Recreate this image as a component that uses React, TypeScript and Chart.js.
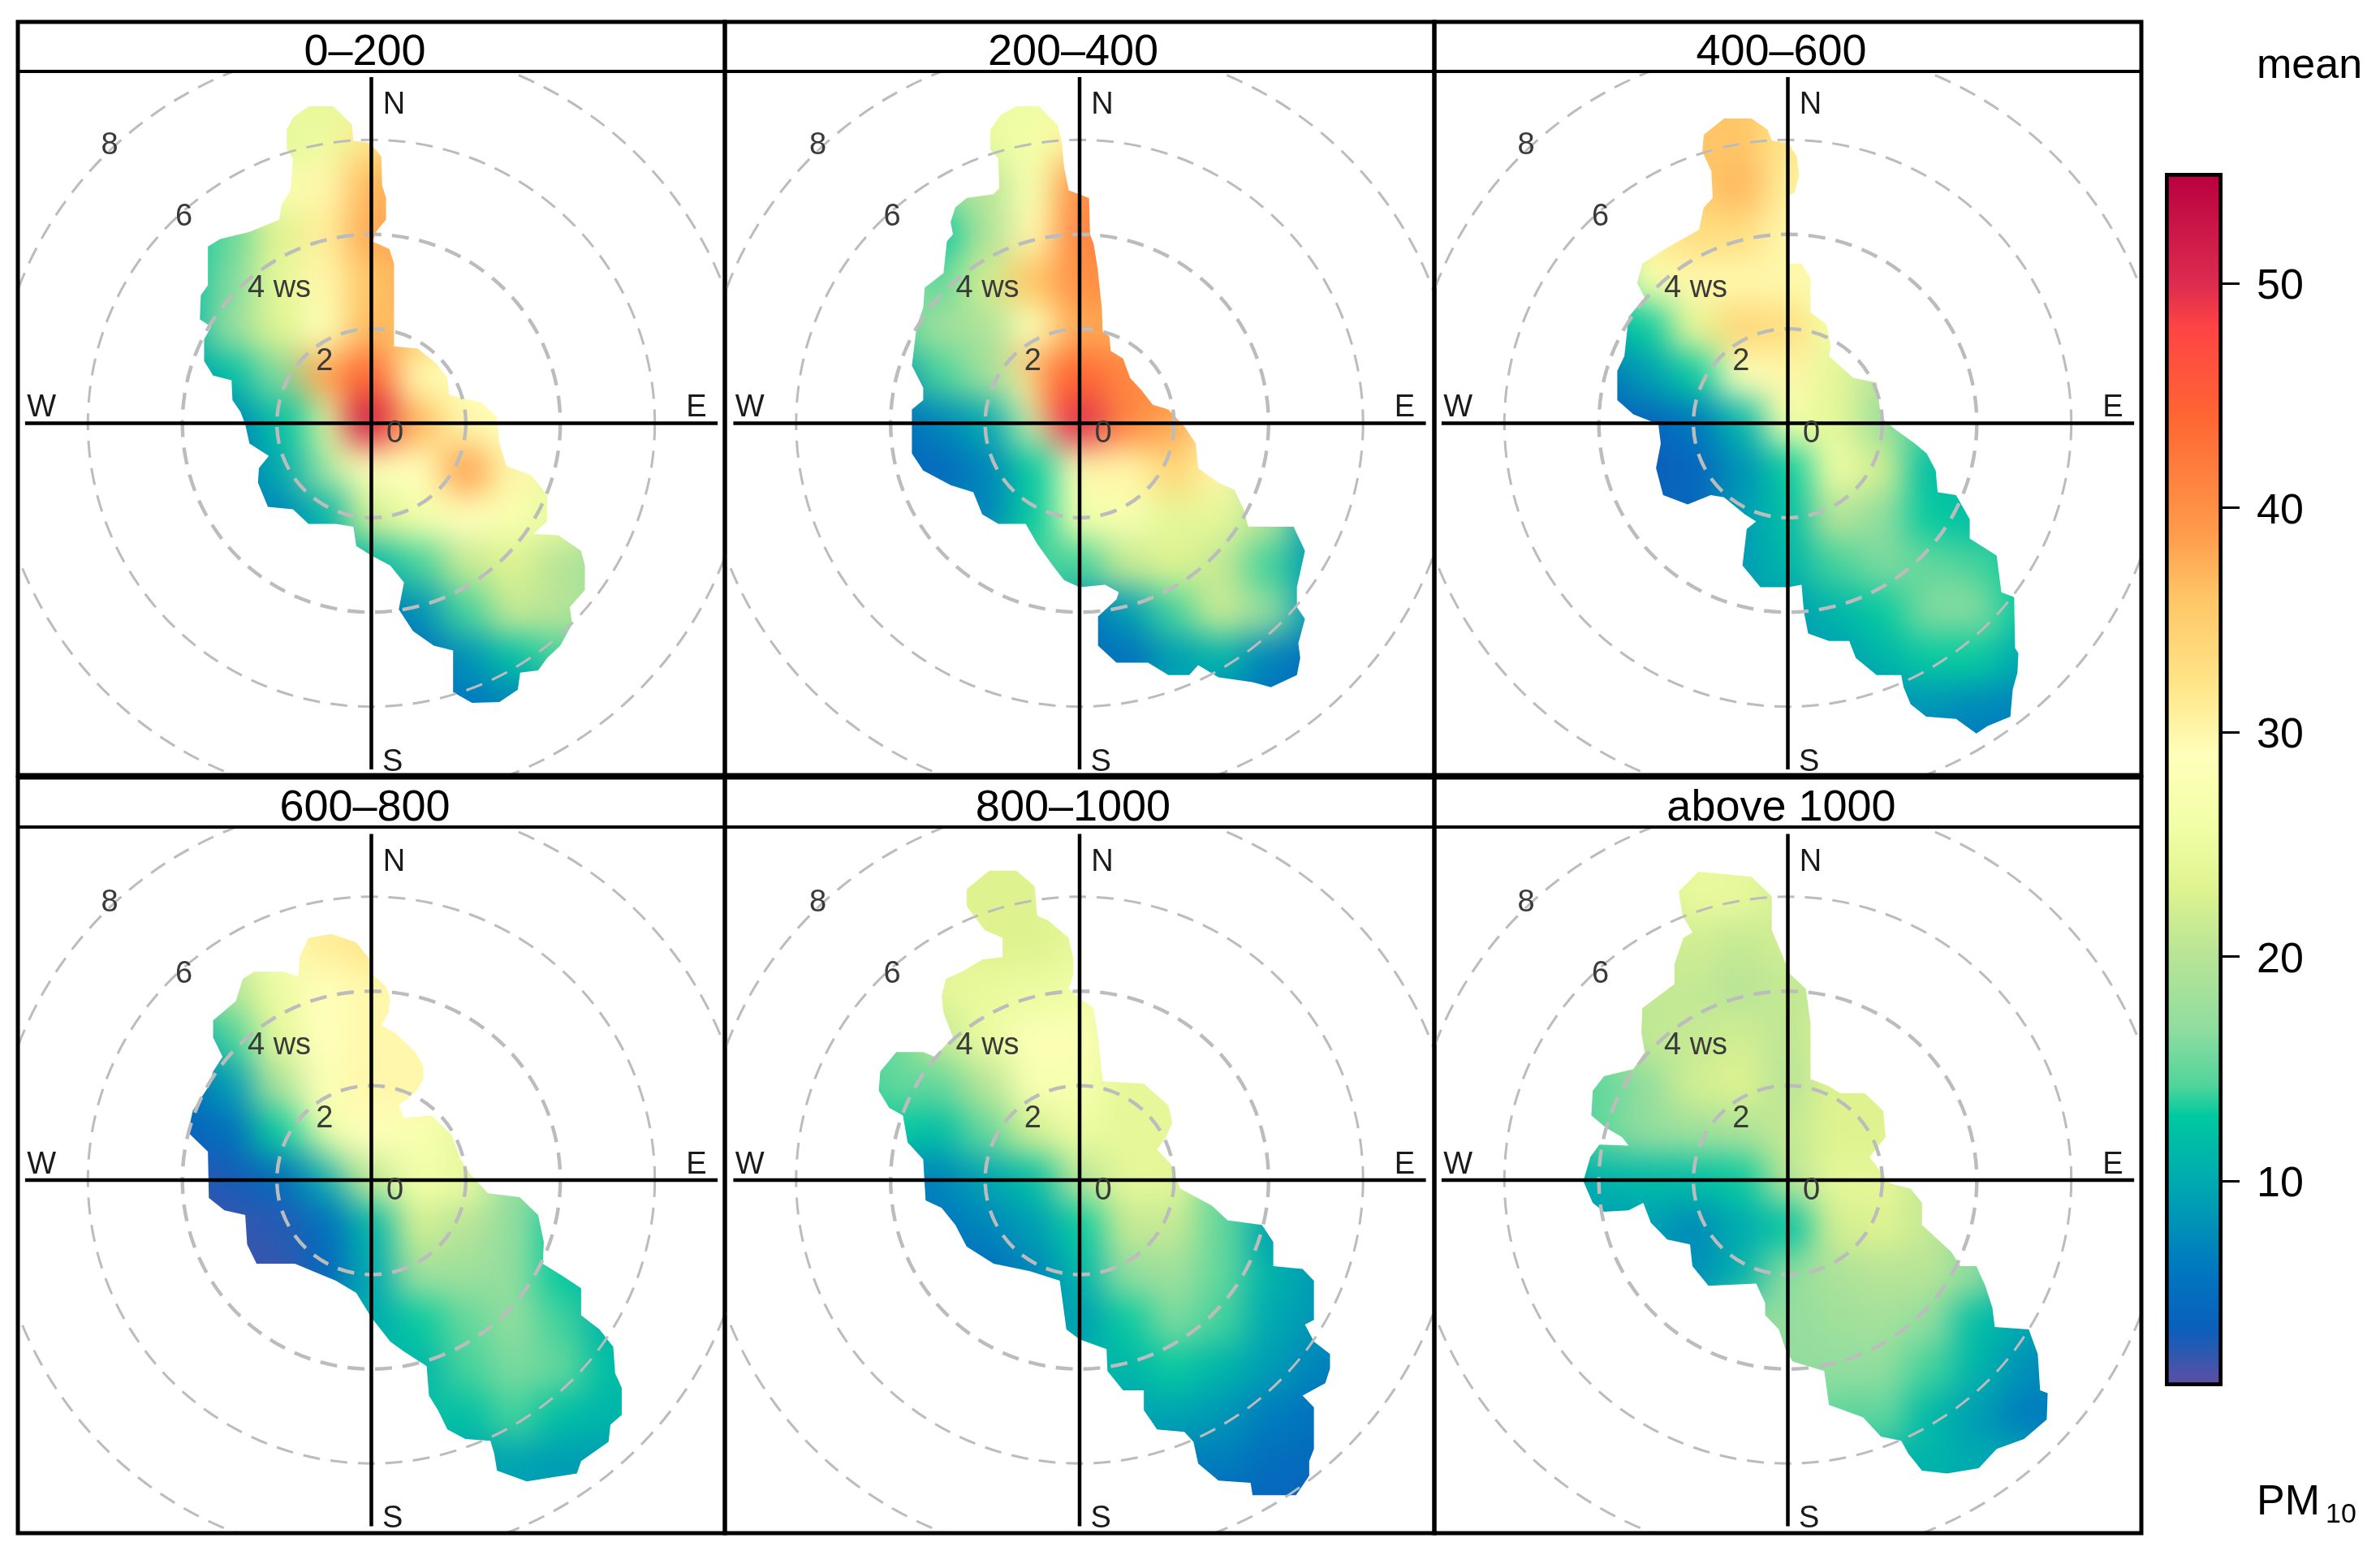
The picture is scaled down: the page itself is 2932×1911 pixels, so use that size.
import React, { useEffect, useRef } from "react";
import { Chart, registerables } from "chart.js";

Chart.register(...registerables);

// ---------- values ----------
const stripLabels = ["0\u2013200", "200\u2013400", "400\u2013600", "600\u2013800", "800\u20131000", "above 1000"];
const ringValues = [2, 4, 6, 8];
const legendTicks = [10, 20, 30, 40, 50];
const legendRange = [0.85, 54.92];
const rampValues = [0.85, 3.4, 6, 10, 12.9, 14.2, 16.8, 20.3, 23, 26, 29, 32, 36, 39, 44, 48, 50, 54.92];
const rampColors = ["#604fa2", "#0a5fbb", "#0077bf", "#00aab0", "#00c9a0", "#4fd49b", "#90dd9f", "#bbe596", "#def390", "#f3ffa8", "#ffffbb", "#ffe68a", "#ffc566", "#ff9a4a", "#ff6633", "#ff4444", "#dc2c50", "#b8003f"];

// Mean PM10 on a 1 m/s grid: [v component row, first u column, ...means]
const p1Field = [
  [7, -1, 24, 26], [6, -2, 24, 25, 32], [5, -2, 27, 30, 37], [4, -4, 13, 15, 23, 31, 38, 38],
  [3, -4, 12, 16, 24, 30, 36, 38], [2, -4, 11, 17, 23, 28, 37, 36], [1, -4, 9, 12, 16, 38, 44, 30, 28],
  [0, -3, 7, 12, 24, 54, 36, 30, 29], [-1, -3, 5, 10, 17, 28, 29, 38, 30], [-2, -2, 7, 11, 22, 26, 29, 27, 25],
  [-3, 0, 11, 14, 21, 23, 20, 18], [-4, 1, 8, 14, 21, 20, 18], [-5, 1, 5, 8, 12, 14], [-6, 2, 6, 7],
];
const p1Hot = [[0, 0, 55], [-0.3, 0.2, 52], [0.3, -0.15, 47], [-0.4, 0.8, 44], [0.9, -0.1, 38], [2.1, -1.15, 39], [-1, 0.3, 27], [-1.5, 0.2, 13], [-0.7, -0.7, 27], [-1.3, -0.7, 14]];
const p1Outline = [[-1.33, 6.71], [-0.8, 6.71], [-0.41, 6.32], [-0.38, 5.98], [-0.03, 5.94], [0.21, 5.65], [0.23, 5.03], [0.31, 4.77], [0.31, 4.31], [0.12, 4.08], [0.02, 3.85], [0.38, 3.69], [0.48, 3.38], [0.48, 1.63], [0.98, 1.58], [1.37, 1.27], [1.61, 0.96], [1.65, 0.6], [2.33, 0.44], [2.66, 0.13], [2.71, -0.43], [2.86, -0.9], [3.38, -1.1], [3.72, -1.52], [3.72, -2.08], [3.43, -2.34], [3.96, -2.37], [4.44, -2.7], [4.52, -3.01], [4.52, -3.53], [4.2, -3.89], [4.25, -4.25], [4, -4.71], [3.72, -4.97], [3.53, -5.23], [3.15, -5.28], [3.1, -5.64], [2.71, -5.9], [2.13, -5.92], [1.73, -5.69], [1.73, -4.81], [1.32, -4.71], [0.88, -4.4], [0.58, -3.94], [0.69, -3.37], [0.4, -3.01], [0, -2.8], [-0.32, -2.6], [-0.38, -2.19], [-0.75, -2.13], [-1.33, -2.13], [-1.66, -1.82], [-2.19, -1.77], [-2.4, -1.26], [-2.38, -0.95], [-2.17, -0.69], [-2.58, -0.43], [-2.67, -0.02], [-2.77, 0.24], [-2.94, 0.49], [-2.96, 0.91], [-3.35, 1.01], [-3.54, 1.32], [-3.54, 1.78], [-3.39, 2.04], [-3.63, 2.2], [-3.61, 2.71], [-3.46, 2.92], [-3.46, 3.74], [-3.2, 3.9], [-2.58, 4.05], [-1.95, 4.31], [-1.9, 4.62], [-1.71, 4.93], [-1.66, 5.6], [-1.79, 5.8], [-1.79, 6.22], [-1.66, 6.47]];

const p2Field = [
  [7, -1, 25, 28], [6, -2, 25, 26, 31], [5, -2, 20, 27, 40], [4, -3, 13, 19, 30, 41, 41], [3, -3, 15, 22, 36, 40, 40],
  [2, -3, 18, 19, 28, 38, 38], [1, -3, 14, 18, 40, 44, 41, 40], [0, -3, 7, 10, 27, 50, 41, 38], [-1, -3, 4.5, 7, 13, 28, 30, 34, 30],
  [-2, -2, 7, 13, 26, 27, 24, 24, 20], [-3, -1, 14, 14, 21, 23, 21, 14, 9], [-4, 1, 9, 14, 21, 17, 9], [-5, 1, 5, 9, 11, 7, 5],
];
const p2Hot = [[-0.4, 0.05, 49], [-0.5, 0.5, 45], [-1.2, 0.5, 27], [-1.2, 1, 27], [0.3, -1, 31], [2.7, -3.9, 22], [-1.2, 0, 17]];
const p2Outline = [[-1.34, 6.71], [-0.86, 6.71], [-0.47, 6.32], [-0.38, 5.98], [-0.33, 5.44], [-0.23, 4.93], [0.2, 4.77], [0.22, 4], [0.3, 3.79], [0.38, 3.28], [0.47, 2.45], [0.49, 1.94], [0.63, 1.84], [0.66, 1.53], [0.92, 1.37], [1.07, 0.96], [1.31, 0.7], [1.55, 0.39], [1.88, 0.29], [2.22, -0.07], [2.46, -0.43], [2.51, -0.95], [2.94, -1.26], [3.28, -1.41], [3.47, -1.82], [3.57, -2.19], [4.53, -2.19], [4.77, -2.7], [4.6, -3.47], [4.6, -3.89], [4.77, -4.14], [4.63, -4.66], [4.67, -4.97], [4.6, -5.33], [4.05, -5.59], [3.66, -5.48], [2.94, -5.38], [2.51, -5.12], [2.32, -5.33], [1.88, -5.33], [1.45, -5.07], [0.78, -5.07], [0.39, -4.71], [0.39, -4.09], [0.78, -3.73], [0.83, -3.58], [0.54, -3.42], [0, -3.47], [-0.33, -3.32], [-0.57, -3.01], [-0.9, -2.55], [-1.14, -2.13], [-1.72, -2.13], [-2.06, -1.93], [-2.25, -1.46], [-2.73, -1.31], [-3.31, -1], [-3.55, -0.64], [-3.55, 0.29], [-3.31, 0.49], [-3.31, 0.75], [-3.55, 1.22], [-3.45, 2.04], [-3.31, 2.45], [-3.28, 2.87], [-2.88, 3.18], [-2.81, 3.85], [-2.68, 4], [-2.73, 4.26], [-2.63, 4.57], [-2.39, 4.77], [-1.82, 4.85], [-1.7, 4.98], [-1.72, 5.6], [-1.89, 5.8], [-1.89, 6.22], [-1.67, 6.53]];

const p3Field = [
  [7, -1, 36], [6, -2, 36, 36, 32], [5, -2, 35, 37, 31], [4, -3, 31, 33, 33, 30], [3, -3, 26, 30, 30, 30, 27],
  [2, -4, 11, 13, 24, 34, 33, 26], [1, -4, 5, 9, 13, 28, 30, 24, 20], [0, -3, 4, 6, 11, 26, 24, 18, 14],
  [-1, -3, 3.5, 4, 8, 13, 25, 22, 12], [-2, -2, 4, 9, 12, 20, 17, 13, 12], [-3, -1, 9, 11, 14, 16, 15, 14],
  [-4, 0, 9, 11, 13, 16, 16, 13], [-5, 1, 9, 11, 13, 13, 10], [-6, 2, 8, 8.5, 7.5, 7], [-7, 4, 6],
];
const p3Hot = [[0.9, -0.7, 26], [3.6, -3.6, 17]];
const p3Outline = [[-1.35, 6.45], [-0.77, 6.45], [-0.43, 6.22], [-0.34, 5.98], [0, 5.94], [0.19, 5.65], [0.24, 5.24], [0.14, 4.88], [0, 4.82], [0, 3.38], [0.29, 3.38], [0.48, 3.07], [0.48, 2.35], [0.82, 2.09], [0.91, 1.63], [0.87, 1.42], [1.39, 0.96], [1.88, 0.86], [1.97, 0.13], [2.26, -0.12], [2.69, -0.43], [2.94, -0.64], [3.13, -1], [3.17, -1.46], [3.56, -1.52], [3.85, -2.03], [3.85, -2.44], [4.42, -2.8], [4.52, -3.58], [4.79, -3.68], [4.81, -4.76], [4.88, -4.87], [4.86, -5.28], [4.76, -5.64], [4.71, -6.21], [4.23, -6.41], [3.99, -6.57], [3.56, -6.26], [2.93, -6.21], [2.6, -5.95], [2.45, -5.59], [2.4, -5.33], [1.88, -5.33], [1.44, -4.97], [1.3, -4.61], [0.87, -4.61], [0.43, -4.45], [0.34, -3.99], [0.29, -3.42], [0, -3.47], [-0.58, -3.47], [-0.96, -3.01], [-0.87, -2.24], [-0.67, -2.08], [-0.91, -1.93], [-1.35, -1.57], [-1.63, -1.52], [-2.12, -1.72], [-2.64, -1.52], [-2.79, -0.95], [-2.69, -0.43], [-2.74, -0.02], [-3.27, 0.19], [-3.61, 0.49], [-3.61, 1.11], [-3.46, 1.42], [-3.37, 2.25], [-3.03, 2.66], [-3.19, 2.97], [-3.08, 3.38], [-2.6, 3.69], [-1.88, 4.1], [-1.78, 4.57], [-1.59, 4.77], [-1.62, 5.34], [-1.81, 5.75], [-1.78, 6.11]];

const p4Field = [
  [5, -1, 31, 32], [4, -3, 20, 25, 29, 30, 30], [3, -3, 14, 24, 29, 30, 30], [2, -3, 9, 19, 28, 30, 30], [1, -4, 4, 5, 13, 26, 29, 27],
  [0, -3, 3, 4.5, 9.5, 21, 26, 25], [-1, -3, 2, 2.5, 5, 11, 22, 20, 17], [-2, -2, 2, 4, 10, 18, 18, 17, 13],
  [-3, 0, 10, 13, 15, 17, 14, 11], [-4, 1, 11, 14, 16, 15, 12], [-5, 2, 12, 14, 12, 11], [-6, 3, 9.5, 9],
];
const p4Hot = [[-0.6, 0.3, 17], [-1.3, 0.7, 16]];
const p4Outline = [[-1.33, 5.13], [-0.85, 5.21], [-0.32, 5.03], [-0.03, 4.67], [0.02, 4.36], [0.31, 4.1], [0.4, 3.85], [0.36, 3.54], [0.21, 3.28], [0.5, 3.12], [0.93, 2.71], [1.1, 2.4], [1.1, 2.14], [0.96, 1.89], [0.58, 1.58], [0.69, 1.32], [1.27, 1.37], [1.7, 0.96], [1.89, 0.44], [2.13, 0.08], [2.47, -0.28], [3.14, -0.36], [3.53, -0.74], [3.65, -1.31], [3.63, -1.77], [4.05, -2.03], [4.44, -2.29], [4.44, -2.86], [4.83, -3.16], [5.12, -3.53], [5.16, -4.09], [5.3, -4.4], [5.3, -4.97], [5.06, -5.18], [5.02, -5.54], [4.44, -5.95], [4.35, -6.21], [3.72, -6.31], [3.29, -6.38], [2.66, -6.15], [2.6, -5.79], [2.52, -5.52], [1.99, -5.48], [1.61, -5.28], [1.41, -4.87], [1.22, -4.56], [1.17, -3.94], [0.69, -3.63], [0.4, -3.42], [0, -2.91], [-0.32, -2.39], [-0.75, -2.13], [-1.62, -1.77], [-2.43, -1.77], [-2.63, -1.36], [-2.67, -0.74], [-3.11, -0.64], [-3.44, -0.38], [-3.46, 0.6], [-3.88, 1.01], [-3.78, 1.47], [-3.44, 1.99], [-3.35, 2.3], [-3.15, 2.61], [-3.35, 3.02], [-3.35, 3.38], [-2.87, 3.79], [-2.72, 4.26], [-2.48, 4.41], [-1.86, 4.41], [-1.55, 4.31], [-1.52, 4.72]];

const p5Field = [
  [7, -2, 23], [6, -2, 23, 23], [5, -2, 23, 23, 24], [4, -3, 24, 24.5, 25, 25.5], [3, -4, 15, 21, 25, 28, 28],
  [2, -4, 15, 15, 20, 27, 27, 24, 24], [1, -4, 13, 12, 15, 22, 25, 24, 24], [0, -3, 7, 9.5, 12, 20, 24, 24],
  [-1, -3, 6, 7, 9, 13, 21, 21, 15], [-2, -2, 5, 7, 11, 17, 18, 15, 11, 9], [-3, 0, 9, 13, 16, 14, 10, 8.5],
  [-4, 1, 11, 13, 11, 9, 7], [-5, 2, 9.5, 8.5, 6.5, 5.5], [-6, 3, 6.5, 5, 4.5], [-7, 4, 4],
];
const p5Hot = [[-0.7, 2.3, 28], [-0.4, 1.6, 27]];
const p5Outline = [[-1.91, 6.55], [-1.34, 6.55], [-0.95, 6.22], [-0.9, 5.6], [-0.66, 5.49], [-0.23, 5.13], [-0.13, 4.67], [-0.13, 4.36], [-0.23, 4.05], [0, 3.85], [0.3, 3.64], [0.39, 3.02], [0.49, 2.09], [1.36, 2.04], [1.88, 1.58], [1.96, 1.22], [1.83, 0.91], [1.64, 0.65], [1.93, 0.34], [2.13, -0.18], [2.8, -0.54], [3.13, -0.85], [3.86, -0.95], [4.1, -1.31], [4.1, -1.82], [4.72, -1.88], [4.96, -2.13], [4.96, -2.96], [4.77, -3.06], [4.96, -3.42], [5.3, -3.68], [5.3, -3.99], [5.2, -4.3], [4.72, -4.56], [4.96, -4.81], [4.96, -5.69], [4.86, -5.95], [4.86, -6.26], [4.58, -6.67], [3.66, -6.67], [3.62, -6.41], [2.94, -6.36], [2.51, -6], [2.41, -5.54], [2.22, -5.33], [1.64, -5.28], [1.36, -4.87], [1.36, -4.45], [0.92, -4.45], [0.59, -4.04], [0.57, -3.58], [0, -3.37], [-0.28, -3.16], [-0.37, -2.49], [-0.42, -2.13], [-1.05, -1.93], [-1.82, -1.77], [-2.39, -1.41], [-2.63, -0.95], [-2.92, -0.59], [-3.26, -0.43], [-3.31, 0.44], [-3.64, 0.8], [-3.74, 1.37], [-4.03, 1.53], [-4.25, 1.89], [-4.22, 2.3], [-3.88, 2.71], [-3.31, 2.71], [-3.07, 2.61], [-2.68, 3.02], [-2.88, 3.54], [-2.92, 3.9], [-2.83, 4.26], [-2.49, 4.41], [-2.06, 4.67], [-1.63, 4.72], [-1.63, 5.13], [-2.01, 5.29], [-2.39, 5.8], [-2.39, 6.16]];

const p6Field = [
  [7, -2, 24.5], [6, -2, 24.5, 24.5], [5, -2, 22, 21, 22], [4, -2, 21, 20, 21], [3, -3, 21, 21, 22, 20.5],
  [2, -4, 15, 17, 22, 23, 20, 23], [1, -4, 15, 17, 18, 19, 21, 23, 23], [0, -4, 11, 11.5, 12, 13, 20, 24, 24],
  [-1, -4, 8.5, 9.5, 7.5, 10, 12, 22, 23, 21], [-2, -2, 8, 10.5, 17, 19, 20, 20, 17], [-3, 0, 17, 18, 18.5, 17, 12, 10],
  [-4, 1, 17, 17, 14, 11, 8], [-5, 2, 15, 11.5, 9, 6.5], [-6, 3, 11, 10],
];
const p6Hot = [[-0.3, -1, 13], [-0.4, -1.8, 15]];
const p6Outline = [[-1.9, 6.53], [-0.77, 6.42], [-0.34, 6.01], [-0.34, 5.29], [-0.1, 4.72], [0.05, 4.36], [0.38, 4.05], [0.48, 3.33], [0.48, 2.14], [0.87, 1.99], [1.11, 1.84], [1.63, 1.84], [2.02, 1.47], [2.07, 0.91], [1.73, 0.49], [2.16, -0.07], [2.6, -0.18], [2.84, -0.48], [2.84, -0.95], [3.46, -1.52], [3.65, -1.82], [3.99, -1.82], [4.18, -2.24], [4.33, -2.7], [4.38, -3.11], [5.1, -3.16], [5.29, -3.68], [5.34, -4.45], [5.5, -4.51], [5.48, -5.07], [5, -5.48], [4.42, -5.69], [4.04, -6.1], [3.37, -6.21], [2.84, -6.15], [2.55, -5.79], [2.4, -5.52], [1.97, -5.43], [1.59, -5.02], [0.87, -4.76], [0.77, -4.04], [0.1, -3.84], [-0.05, -3.58], [-0.19, -3.16], [-0.48, -2.86], [-0.48, -2.6], [-0.67, -2.19], [-1.68, -2.24], [-2.02, -1.82], [-2.07, -1.36], [-2.55, -1.26], [-2.9, -0.9], [-3.06, -0.48], [-3.37, -0.64], [-3.89, -0.67], [-4.13, -0.48], [-4.33, -0.02], [-4.18, 0.49], [-3.99, 0.75], [-3.37, 0.73], [-3.51, 0.91], [-3.85, 1.11], [-4.16, 1.37], [-4.13, 1.89], [-3.89, 2.2], [-3.27, 2.35], [-3.03, 2.71], [-3.1, 3.12], [-3.08, 3.64], [-2.4, 4.15], [-2.4, 4.57], [-2.21, 5.13], [-2.02, 5.24], [-2.23, 5.6], [-2.31, 6.11]];

const panelFields = [p1Field, p2Field, p3Field, p4Field, p5Field, p6Field];
const panelHots = [p1Hot, p2Hot, p3Hot, p4Hot, p5Hot, p6Hot];
const panelOutlines = [p1Outline, p2Outline, p3Outline, p4Outline, p5Outline, p6Outline];

// ---------- layout and styles ----------
const colEdges = [22, 893, 1767, 2638];
const rowEdges = [[27, 88, 955], [958, 1019, 1889]];
const PX_PER_WS = 58.2;
const M = 3; // half the frame width
const FONT = '"Liberation Sans", Arial, sans-serif';
const ringLabels = [
  { t: "0", x: 0.5, y: -0.155 }, { t: "2", x: -0.99, y: 1.37 }, { t: "4 ws", x: -1.95, y: 2.92 },
  { t: "6", x: -3.97, y: 4.43 }, { t: "8", x: -5.54, y: 5.94 },
];
const compassLabels = [
  { t: "N", x: 0.48, y: 6.8 }, { t: "S", x: 0.45, y: -7.11 }, { t: "W", x: -6.98, y: 0.39 }, { t: "E", x: 6.88, y: 0.39 },
];

const hexRgb = (h: string) => [1, 3, 5].map((i) => parseInt(h.slice(i, i + 2), 16));
const rampRgb = rampColors.map(hexRgb);
function colorFor(v: number) {
  let i = 0;
  while (i < rampValues.length - 2 && v > rampValues[i + 1]) i++;
  const t = Math.max(0, Math.min(1, (v - rampValues[i]) / (rampValues[i + 1] - rampValues[i])));
  const c = rampRgb[i].map((a, k) => Math.round(a + (rampRgb[i + 1][k] - a) * t));
  return `rgb(${c[0]},${c[1]},${c[2]})`;
}

const fieldPoints = (rows: number[][]) =>
  rows.flatMap(([y, x0, ...vals]) => vals.map((v, i) => ({ x: x0 + i, y, v })));

const panelPlugin = (label: string, outline: number[][], fieldIndex: number) => ({
  id: "panelPlugin",
  afterDatasetDraw(chart: any, args: any) {
    if (args.index !== fieldIndex) return;
    const { ctx, canvas, chartArea: a, scales } = chart;
    const off = document.createElement("canvas");
    off.width = canvas.width;
    off.height = canvas.height;
    const o = off.getContext("2d")!;
    o.filter = "blur(20px)";
    o.drawImage(canvas, 0, 0);
    o.filter = "none";
    o.globalCompositeOperation = "destination-in";
    o.beginPath();
    outline.forEach(([x, y], i) => {
      const px = scales.x.getPixelForValue(x);
      const py = scales.y.getPixelForValue(y);
      if (i) o.lineTo(px, py);
      else o.moveTo(px, py);
    });
    o.closePath();
    o.fill();
    ctx.save();
    ctx.clearRect(a.left, a.top, a.right - a.left, a.bottom - a.top);
    ctx.drawImage(off, 0, 0);
    // dashed wind-speed rings over the field
    ctx.beginPath();
    ctx.rect(a.left, a.top, a.right - a.left, a.bottom - a.top);
    ctx.clip();
    ctx.strokeStyle = "#bcbcbc";
    ctx.setLineDash([21, 13]);
    ringValues.forEach((r) => {
      ctx.lineWidth = r < 6 ? 4.4 : 3;
      ctx.beginPath();
      ctx.arc(scales.x.getPixelForValue(0), scales.y.getPixelForValue(0), scales.x.getPixelForValue(r) - scales.x.getPixelForValue(0), 0, Math.PI * 2);
      ctx.stroke();
    });
    ctx.restore();
  },
  afterDraw(chart: any) {
    const { ctx, chartArea: a, scales, width, height } = chart;
    ctx.save();
    ctx.textAlign = "center";
    ctx.textBaseline = "middle";
    ctx.font = `38px ${FONT}`;
    ctx.fillStyle = "#3a3a3a";
    ringLabels.forEach((l) => ctx.fillText(l.t, scales.x.getPixelForValue(l.x), scales.y.getPixelForValue(l.y) + 4));
    ctx.fillStyle = "#1a1a1a";
    compassLabels.forEach((l) => ctx.fillText(l.t, scales.x.getPixelForValue(l.x), scales.y.getPixelForValue(l.y) + 4));
    ctx.fillStyle = "#000";
    ctx.font = `54px ${FONT}`;
    ctx.fillText(label, (a.left + a.right) / 2 - 8, a.top - 23);
    ctx.strokeStyle = "#000";
    ctx.lineWidth = 5;
    ctx.strokeRect(M, M, width - 2 * M, height - 2 * M);
    ctx.lineWidth = 4;
    ctx.beginPath();
    ctx.moveTo(M, a.top);
    ctx.lineTo(width - M, a.top);
    ctx.stroke();
    ctx.restore();
  },
});

function Panel({ idx }: { idx: number }) {
  const ref = useRef<HTMLCanvasElement>(null);
  const col = idx % 3;
  const row = Math.floor(idx / 3);
  const [top, strip, bottom] = rowEdges[row];
  const left = colEdges[col];
  const right = colEdges[col + 1];
  const w = right - left + 2 * M;
  const h = bottom - top + 2 * M;
  useEffect(() => {
    const points = fieldPoints(panelFields[idx]);
    const hot = panelHots[idx].map(([x, y, v]) => ({ x, y, v }));
    const pointColor = (c: any) => colorFor(c.raw.v);
    const rangeX = (right - left) / 2 / PX_PER_WS;
    const rangeY = (bottom - strip) / 2 / PX_PER_WS;
    const chart = new Chart(ref.current!, {
      type: "scatter",
      data: {
        datasets: [
          { data: [{ x: -7.33, y: 0 }, { x: 7.33, y: 0 }], showLine: true, borderColor: "#000", borderWidth: 4.5, pointRadius: 0, order: 1 },
          { data: [{ x: 0, y: 7.33 }, { x: 0, y: -7.33 }], showLine: true, borderColor: "#000", borderWidth: 4.5, pointRadius: 0, order: 2 },
          { data: hot, pointRadius: 18, pointBorderWidth: 0, backgroundColor: pointColor, order: 10 },
          { data: points, pointStyle: "rect", pointRadius: PX_PER_WS * Math.SQRT1_2 + 1, pointBorderWidth: 0, backgroundColor: pointColor, order: 20 },
          { data: points, pointRadius: PX_PER_WS * 1.6, pointBorderWidth: 0, backgroundColor: pointColor, order: 30 },
        ] as any,
      },
      options: {
        animation: false,
        responsive: false,
        layout: { autoPadding: false, padding: { left: M, right: M, top: M + strip - top, bottom: M } },
        plugins: { legend: { display: false }, tooltip: { enabled: false } },
        events: [],
        scales: {
          x: { type: "linear", min: -rangeX, max: rangeX, display: false },
          y: { type: "linear", min: -rangeY, max: rangeY, display: false },
        },
      } as any,
      plugins: [panelPlugin(stripLabels[idx], panelOutlines[idx], 2)],
    });
    return () => chart.destroy();
  }, []);
  return (
    <canvas
      ref={ref}
      width={w}
      height={h}
      style={{ position: "absolute", left: left - M, top: top - M, width: w, height: h }}
    />
  );
}

function Legend() {
  const ref = useRef<HTMLCanvasElement>(null);
  useEffect(() => {
    const chart = new Chart(ref.current!, {
      type: "bar",
      data: {
        labels: ["PM10"],
        datasets: [
          {
            data: [legendRange],
            barPercentage: 1,
            categoryPercentage: 1,
            borderColor: "#000",
            borderWidth: 5,
            borderSkipped: false,
            backgroundColor: (c: any) => {
              const a = c.chart.chartArea;
              const y = c.chart.scales.y;
              if (!a) return "#fff";
              const g = c.chart.ctx.createLinearGradient(0, y.getPixelForValue(legendRange[0]), 0, y.getPixelForValue(legendRange[1]));
              rampValues.forEach((v, i) => g.addColorStop((v - legendRange[0]) / (legendRange[1] - legendRange[0]), rampColors[i]));
              return g;
            },
          },
        ] as any,
      },
      options: {
        animation: false,
        responsive: false,
        layout: { autoPadding: false, padding: { left: 27, right: 0, top: 213, bottom: 1911 - 1708 } },
        plugins: { legend: { display: false }, tooltip: { enabled: false } },
        events: [],
        scales: {
          x: { display: false, offset: true },
          y: {
            position: "right",
            min: legendRange[0],
            max: legendRange[1],
            afterBuildTicks: (axis: any) => {
              axis.ticks = legendTicks.map((value) => ({ value }));
            },
            grid: { drawOnChartArea: false, drawTicks: true, tickLength: 21, tickColor: "#000", tickWidth: 3 },
            border: { display: false },
            ticks: { display: false },
            afterFit: (axis: any) => {
              axis.width = 194;
            },
          },
        },
      } as any,
      plugins: [
        {
          id: "legendText",
          afterDraw(chart: any) {
            const { ctx, scales } = chart;
            ctx.save();
            ctx.fillStyle = "#000";
            ctx.textBaseline = "middle";
            ctx.font = `52px ${FONT}`;
            legendTicks.forEach((v) => ctx.fillText(String(v), 140, scales.y.getPixelForValue(v) + 5));
            ctx.textBaseline = "alphabetic";
            ctx.fillText("mean", 140, 96);
            ctx.fillText("PM", 140, 1866);
            ctx.font = `34px ${FONT}`;
            ctx.fillText("10", 225, 1876);
            ctx.restore();
          },
        },
      ],
    });
    return () => chart.destroy();
  }, []);
  return <canvas ref={ref} width={292} height={1911} style={{ position: "absolute", left: 2640, top: 0, width: 292, height: 1911 }} />;
}

export default function App() {
  return (
    <div style={{ position: "absolute", left: 0, top: 0, width: 2932, height: 1911, overflow: "hidden", background: "#fff" }}>
      {stripLabels.map((_, i) => (
        <Panel key={i} idx={i} />
      ))}
      <Legend />
    </div>
  );
}
